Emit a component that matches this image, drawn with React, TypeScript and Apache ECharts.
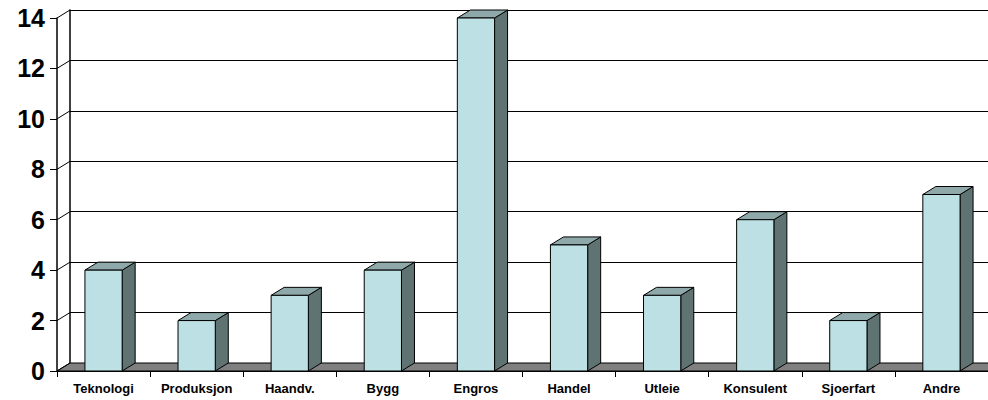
import React, { useEffect, useRef } from "react";
import * as echarts from "echarts";

const categories = ["Teknologi", "Produksjon", "Haandv.", "Bygg", "Engros", "Handel", "Utleie", "Konsulent", "Sjoerfart", "Andre"];
const values = [4, 2, 3, 4, 14, 5, 3, 6, 2, 7];
const yTicks = [0, 2, 4, 6, 8, 10, 12, 14];

const DX = 13;
const DY = -8;
const FRONT = "#BCE0E3";
const SIDE = "#5F7373";
const TOP = "#8FA8A9";
const FLOOR = "#808080";
const FONT = "'Liberation Sans', Arial, sans-serif";

export default function App() {
  const ref = useRef<HTMLDivElement>(null);
  useEffect(() => {
    if (!ref.current) return;
    const chart = echarts.init(ref.current, null, { renderer: "svg" });
    chart.setOption({
      animation: false,
      grid: [
        { left: 57, right: 0, top: 18, bottom: 29 },
        { left: 57 + DX, right: 0, top: 18 + DY, bottom: 29 - DY },
      ],
      xAxis: [
        {
          type: "category",
          gridIndex: 0,
          data: categories,
          boundaryGap: true,
          axisLine: { show: true, lineStyle: { color: "#000", width: 1 } },
          axisTick: { show: true, length: 6, lineStyle: { color: "#000" } },
          axisLabel: { interval: 0, margin: 11, color: "#000", fontWeight: "bold", fontSize: 13, fontFamily: FONT },
          splitLine: { show: false },
        },
        {
          type: "category",
          gridIndex: 1,
          data: categories,
          show: false,
        },
      ],
      yAxis: [
        {
          type: "value",
          gridIndex: 0,
          min: 0,
          max: 14,
          interval: 2,
          axisLine: { show: true, lineStyle: { color: "#000", width: 1.5 } },
          axisTick: { show: true, length: 7, lineStyle: { color: "#000" } },
          axisLabel: { margin: 12, color: "#000", fontWeight: "bold", fontSize: 25, fontFamily: FONT },
          splitLine: { show: false },
        },
        {
          type: "value",
          gridIndex: 1,
          min: 0,
          max: 14,
          interval: 2,
          axisLine: { show: true, lineStyle: { color: "#000", width: 1.5 } },
          axisTick: { show: false },
          axisLabel: { show: false },
          splitLine: { show: true, lineStyle: { color: "#000", width: 1 } },
        },
      ],
      series: [
        {
          type: "custom",
          xAxisIndex: 0,
          yAxisIndex: 0,
          data: [[0, 0]],
          silent: true,
          renderItem: (params: any) => {
            const cs = params.coordSys;
            const yb = cs.y + cs.height;
            return {
              type: "polygon",
              shape: {
                points: [
                  [cs.x, yb],
                  [cs.x + cs.width + DX, yb],
                  [cs.x + cs.width + DX, yb + DY],
                  [cs.x + DX, yb + DY],
                ],
              },
              style: { fill: FLOOR, stroke: "#000", lineWidth: 1 },
            };
          },
        },
        {
          type: "custom",
          xAxisIndex: 0,
          yAxisIndex: 0,
          data: yTicks.map((v) => [0, v]),
          silent: true,
          renderItem: (params: any, api: any) => {
            const cs = params.coordSys;
            const y = api.coord([0, api.value(1)])[1];
            return {
              type: "line",
              shape: { x1: cs.x, y1: y, x2: cs.x + DX, y2: y + DY },
              style: { stroke: "#000", lineWidth: 1 },
            };
          },
        },
        {
          type: "custom",
          xAxisIndex: 0,
          yAxisIndex: 0,
          data: values.map((v, i) => [i, v]),
          silent: true,
          renderItem: (params: any, api: any) => {
            const i = api.value(0);
            const v = api.value(1);
            const top = api.coord([i, v]);
            const base = api.coord([i, 0]);
            const bw = api.size([1, 0])[0] * 0.4;
            const x0 = top[0] - bw / 2;
            const x1 = top[0] + bw / 2;
            const yT = top[1];
            const yB = base[1];
            return {
              type: "group",
              children: [
                {
                  type: "polygon",
                  shape: { points: [[x1, yT], [x1 + DX, yT + DY], [x1 + DX, yB + DY], [x1, yB]] },
                  style: { fill: SIDE, stroke: "#000", lineWidth: 1 },
                },
                {
                  type: "polygon",
                  shape: { points: [[x0, yT], [x0 + DX, yT + DY], [x1 + DX, yT + DY], [x1, yT]] },
                  style: { fill: TOP, stroke: "#000", lineWidth: 1 },
                },
                {
                  type: "rect",
                  shape: { x: x0, y: yT, width: bw, height: yB - yT },
                  style: { fill: FRONT, stroke: "#000", lineWidth: 1 },
                },
              ],
            };
          },
        },
      ],
    });
    return () => chart.dispose();
  }, []);
  return <div ref={ref} style={{ width: 988, height: 400, position: "absolute", left: 0, top: 0 }} />;
}
